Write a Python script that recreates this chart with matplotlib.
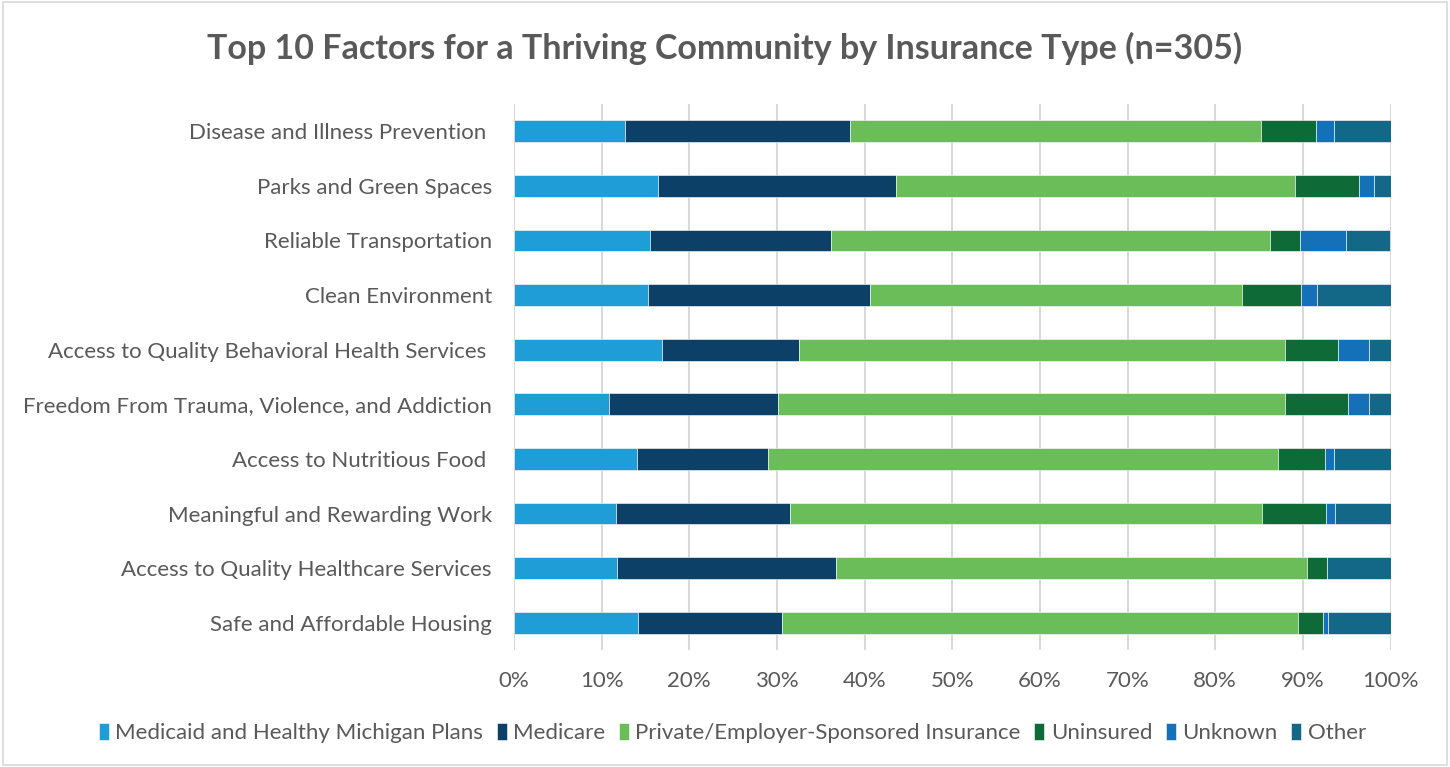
import numpy as np
import matplotlib.pyplot as plt
from matplotlib.patches import Rectangle

plt.rcParams['font.family'] = ['Lato', 'DejaVu Sans']

factors = [
    "Disease and Illness Prevention ",
    "Parks and Green Spaces",
    "Reliable Transportation",
    "Clean Environment",
    "Access to Quality Behavioral Health Services ",
    "Freedom From Trauma, Violence, and Addiction",
    "Access to Nutritious Food ",
    "Meaningful and Rewarding Work",
    "Access to Quality Healthcare Services",
    "Safe and Affordable Housing",
]

groups = [
    "Medicaid and Healthy Michigan Plans",
    "Medicare",
    "Private/Employer-Sponsored Insurance",
    "Uninsured",
    "Unknown",
    "Other",
]

# percent of respondents in each insurance group, per factor
medicaid = [12.7, 16.4, 15.5, 15.3, 16.9, 10.8, 14.0, 11.6, 11.8, 14.1]
medicare = [25.6, 27.2, 20.7, 25.3, 15.6, 19.3, 15.0, 19.9, 24.9, 16.5]
private = [46.9, 45.5, 50.1, 42.5, 55.5, 57.9, 58.2, 53.8, 53.8, 58.9]
uninsured = [6.3, 7.3, 3.4, 6.7, 6.0, 7.2, 5.3, 7.3, 2.2, 2.8]
unknown = [2.1, 1.7, 5.2, 1.8, 3.6, 2.4, 1.1, 1.1, 0.0, 0.6]
other = [6.4, 1.9, 5.1, 8.4, 2.4, 2.4, 6.4, 6.3, 7.3, 7.1]

colors = ['#1f9dd7', '#0c4066', '#6abd58', '#0e6b38', '#1470b8', '#126886']

series = np.array([medicaid, medicare, private, uninsured, unknown, other])
series = series / series.sum(axis=0) * 100

fig = plt.figure(figsize=(14.5, 7.67), dpi=100)
ax = fig.add_axes([514 / 1450, 1 - 650 / 767, 876.5 / 1450, 546 / 767])

y = np.arange(len(factors))
left = np.zeros(len(factors))
for vals, name, col in zip(series, groups, colors):
    ax.barh(y, vals, left=left, height=0.4, color=col, label=name,
            edgecolor='white', linewidth=0.4, zorder=3)
    left += vals

ax.set_xlim(0, 100)
ax.set_ylim(len(factors) - 0.5, -0.5)
ax.set_xticks(np.arange(0, 101, 10))
ax.set_xticklabels([f"{v}%" for v in range(0, 101, 10)])
ax.set_yticks(y)
ax.set_yticklabels(factors)
ax.tick_params(axis='both', length=0, labelsize=16, colors='#595959')
ax.tick_params(axis='y', pad=16)
ax.tick_params(axis='x', pad=15)
ax.grid(axis='x', color='#d9d9d9', linewidth=1.5, zorder=0)
for s in ax.spines.values():
    s.set_visible(False)

fig.text(0.5, 1 - 48 / 767, "Top 10 Factors for a Thriving Community by Insurance Type (n=305)",
         ha='center', va='center', fontsize=24.5, fontweight='bold', color='#595959')

fig.legend(loc='center', bbox_to_anchor=(0.505, 1 - 733 / 767), ncol=6,
           frameon=False, fontsize=16, labelcolor='#595959',
           handlelength=0.45, handleheight=0.8, handletextpad=0.3,
           columnspacing=0.6)

fig.patches.append(Rectangle((0.002, 0.002), 0.996, 0.996, transform=fig.transFigure,
                             fill=False, edgecolor='#d9d9d9', linewidth=1.2))

fig.savefig('out.png', dpi=100)
